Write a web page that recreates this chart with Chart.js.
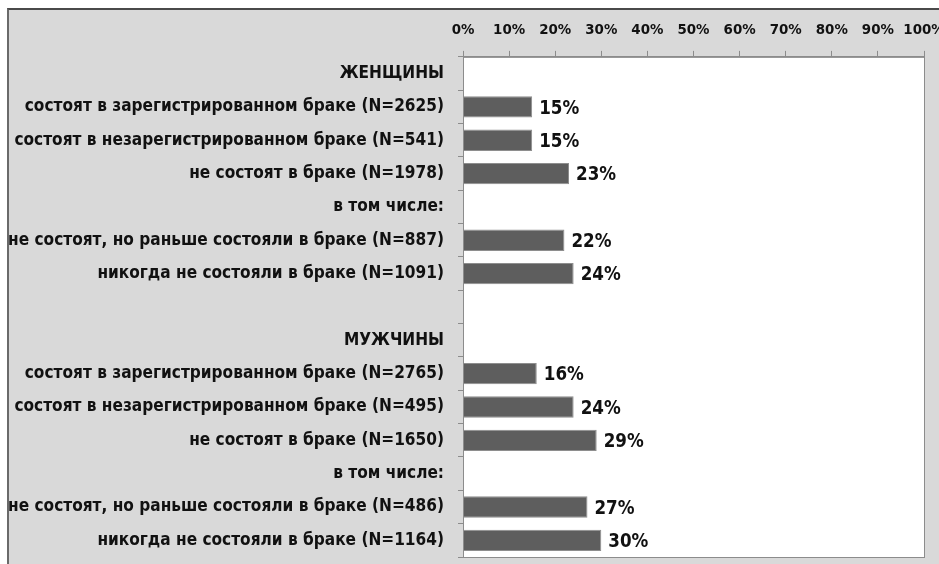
<!DOCTYPE html>
<html>
<head>
<meta charset="utf-8">
<script src="https://cdn.jsdelivr.net/npm/chart.js@4/dist/chart.umd.min.js"></script>
<style>
  html, body { margin: 0; padding: 0; background: #fff; overflow: hidden; }
  #frame { position: absolute; left: 7px; top: 8px; width: 960px; height: 600px;
           background: #d9d9d9; border-top: 2px solid #4a4a4a; border-left: 2px solid #6a6a6a; }
  #chart { position: absolute; left: 0; top: 0; }
</style>
</head>
<body>
<div id="frame"></div>
<canvas id="chart" width="960" height="564"></canvas>
<script>
const categories = [
  "ЖЕНЩИНЫ",
  "состоят в зарегистрированном браке (N=2625)",
  "состоят в незарегистрированном браке (N=541)",
  "не состоят в браке (N=1978)",
  "в том числе:",
  "не состоят, но раньше состояли в браке (N=887)",
  "никогда не состояли в браке (N=1091)",
  "",
  "МУЖЧИНЫ",
  "состоят в зарегистрированном браке (N=2765)",
  "состоят в незарегистрированном браке (N=495)",
  "не состоят в браке (N=1650)",
  "в том числе:",
  "не состоят, но раньше состояли в браке (N=486)",
  "никогда не состояли в браке (N=1164)"
];
const shares = [null, 15, 15, 23, null, 22, 24, null, null, 16, 24, 29, null, 27, 30];
const axisTicks = [0, 10, 20, 30, 40, 50, 60, 70, 80, 90, 100];

// pick the narrowest installed font, then size text to the widths seen in the picture
const probe = document.createElement('canvas').getContext('2d');
function hasFont(name) {
  probe.font = "bold 40px monospace";
  const a = probe.measureText("состоят браке 1234").width;
  probe.font = "bold 40px '" + name + "', monospace";
  return probe.measureText("состоят браке 1234").width !== a;
}
const candidates = ['Liberation Sans Narrow', 'DejaVu Sans Condensed', 'Liberation Sans'];
const fontName = "'" + (candidates.find(hasFont) || 'Liberation Sans') + "', sans-serif";
function fitSize(text, width) {
  probe.font = "bold 100px " + fontName;
  return Math.round(100 * width / probe.measureText(text).width * 10) / 10;
}
const labelSize = fitSize("состоят в незарегистрированном браке (N=541)", 431);
const tickSize = fitSize("10%", 32);
const valueSize = fitSize("23%", 40);

// white plot area with a thin grey frame
const plotBox = {
  id: 'plotBox',
  beforeDraw(chart) {
    const a = chart.chartArea, ctx = chart.ctx;
    ctx.save();
    ctx.fillStyle = '#fff';
    ctx.fillRect(a.left, a.top, a.right - a.left, a.bottom - a.top);
    ctx.restore();
  },
  afterDraw(chart) {
    const a = chart.chartArea, ctx = chart.ctx;
    ctx.save();
    ctx.strokeStyle = '#8c8c8c';
    ctx.lineWidth = 1;
    ctx.strokeRect(a.left + 0.5, a.top + 0.5, a.right - a.left, a.bottom - a.top);
    ctx.restore();
  }
};

// value labels at the end of each bar
const barLabels = {
  id: 'barLabels',
  afterDatasetsDraw(chart) {
    const ctx = chart.ctx;
    const meta = chart.getDatasetMeta(0);
    ctx.save();
    ctx.font = "bold " + valueSize + "px " + fontName;
    ctx.fillStyle = '#111';
    ctx.textAlign = 'left';
    ctx.textBaseline = 'middle';
    meta.data.forEach((bar, i) => {
      if (shares[i] == null) return;
      ctx.fillText(shares[i] + '%', bar.x + 7, bar.y + 2);
    });
    ctx.restore();
  }
};

new Chart("chart", {
  type: "bar",
  data: {
    labels: categories,
    datasets: [{
      data: shares,
      backgroundColor: "#5e5e5e",
      borderColor: "#8e8e8e",
      borderWidth: 1,
      barPercentage: 0.64,
      categoryPercentage: 1
    }]
  },
  options: {
    indexAxis: 'y',
    responsive: false,
    animation: false,
    layout: { padding: { top: 9, right: 36, bottom: 7, left: 0 } },
    plugins: { legend: { display: false }, tooltip: { enabled: false } },
    scales: {
      x: {
        position: 'top',
        min: 0,
        max: 100,
        afterBuildTicks(scale) {
          scale.ticks = axisTicks.map(v => ({ value: v }));
        },
        ticks: {
          callback: v => v + '%',
          color: '#111',
          padding: 12,
          maxRotation: 0,
          minRotation: 0,
          autoSkip: false,
          font: { family: fontName, size: tickSize, weight: 'bold' }
        },
        grid: { drawOnChartArea: false, tickLength: 6, color: '#8c8c8c' },
        border: { color: '#8c8c8c' }
      },
      y: {
        afterFit(scale) {
          scale.width = 463;
          scale.paddingTop = 0;
          scale.paddingBottom = 0;
        },
        ticks: {
          color: '#111',
          padding: 14,
          autoSkip: false,
          font: { family: fontName, size: labelSize, weight: 'bold' }
        },
        grid: { drawOnChartArea: false, tickLength: 5, color: '#8c8c8c', offset: true },
        border: { color: '#8c8c8c' }
      }
    }
  },
  plugins: [plotBox, barLabels]
});
</script>
</body>
</html>
